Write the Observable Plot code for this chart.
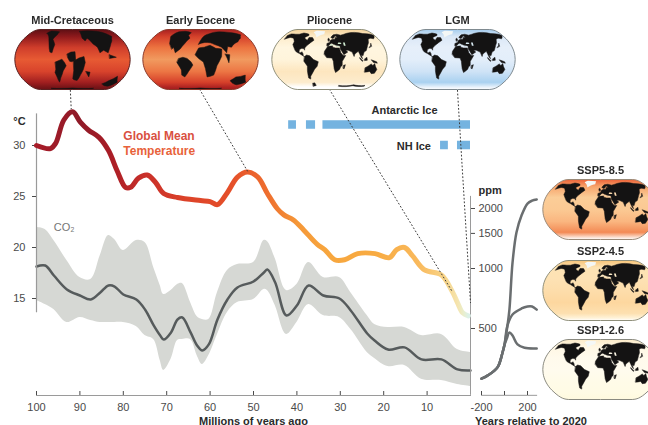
<!DOCTYPE html>
<html>
<head>
<meta charset="utf-8">
<script src="https://cdn.jsdelivr.net/npm/d3@7"></script>
<script src="https://cdn.jsdelivr.net/npm/@observablehq/plot@0.6"></script>
<style>
html,body{margin:0;padding:0;background:#fff;overflow:hidden}
#chart{position:relative;width:648px;height:425px;overflow:hidden;background:#fff}
#chart svg{position:absolute;left:0;top:0;background:transparent;max-width:none}
text{font-family:"Liberation Sans",Arial,sans-serif}
</style>
</head>
<body>
<div id="chart"></div>
<script>
// ---------- Temperature (degrees C) by age (Myr ago)
const tempAges = [100,96.8,95.6,93.7,91.7,89.9,88,85.6,83.4,81.4,79.5,78.3,76.5,74.5,72.6,70.7,67.5,62.2,60,58.3,56,53.7,51.4,49,46.8,44.5,43,40.8,38.4,35.3,33.6,31.3,29,26,22,18.7,17,15.2,13.4,10.6,6.7,4.1,3,1.8,0.5];
const tempC = [30,29.7,30.2,32.5,33.3,32.3,31.5,30.8,29.5,27.5,25.9,25.9,26.8,27.1,26.4,25.3,24.9,24.6,24.5,24.2,25.4,26.9,27.4,26.9,25.3,23.8,23.2,22.7,21.7,20.3,19.8,18.8,18.8,19.4,19.4,19,19.8,20,19.2,17.8,17.3,15.6,14.6,13.6,13.3];
const tempStopAges = [100,90,83,75,65,55,47,40,33,22,12,6,3,1.5,0.5];
const tempStopColors = ["#a81c28","#8f1a28","#a91d26","#c9302a","#dd4329","#e5502a","#ee6d2e","#f59738","#f7a63e","#f8ab42","#f9b95c","#f8d488","#f5e4ae","#e8efd0","#dcf1e8"];

// ---------- CO2 (ppm) by age
const co2Ages = [100,98,96,93,90,87.5,85.3,83.4,82,80,77,75,73,71.5,70.7,69,67.5,66.4,64.5,63,61.8,60.3,58.3,56,53.7,50,47.6,46.8,45,42.4,40,37.3,33.9,30.2,27.6,23.8,22.1,19,15.2,11.3,6.7,3,0];
const co2Mid = [1023,1035,922,785,732,699,758,822,812,741,699,623,518,461,440,478,555,568,478,411,388,416,555,699,803,861,955,989,851,581,652,822,732,707,616,472,435,392,402,350,350,312,308];
const co2High = [1605,1569,1381,1097,901,881,1162,1464,1398,1231,1381,1350,1012,822,741,776,831,841,675,575,555,555,758,977,1047,1072,1381,1366,1122,776,831,1072,901,901,758,581,524,506,506,461,467,392,379];
const co2Low = [691,660,623,536,568,549,536,536,536,536,512,461,440,345,308,350,435,440,440,366,330,366,467,602,675,699,785,776,652,467,536,660,581,568,495,379,354,322,326,278,274,262,256];

// ---------- Ice sheet extents (Myr ago)
const iceSheets = ["Antarctic Ice","Antarctic Ice","Antarctic Ice","NH Ice","NH Ice"];
const iceStart = [41.9,37.8,34,6.9,3.0];
const iceEnd = [40.1,35.7,0,5.1,0];

// ---------- CO2 scenarios (years relative to 2020, ppm)
const histYears = [-200,-148,-61,-17,0];
const histPpm = [280,290,319,379,414];
const ssp5Years = [26,43,70,104,148,200,240,280];
const ssp5Ppm = [518,623,1072,1515,1844,2118,2190,2220];
const ssp2Years = [26,70,148,200,240,280];
const ssp2Ppm = [518,588,630,645,645,622];
const ssp1Years = [20,43,70,113,174,280];
const ssp1Ppm = [445,478,461,416,400,397];

// ---------- Axis ticks
const ageTicks = [100,90,80,70,60,50,40,30,20,10];
const tempTicks = [15,20,25,30];
const ppmTicks = [500,1000,1500,2000];
const yearTicks = [-200,0,200];

// ---------- Leader lines from maps to the temperature curve
const leaderAge1 = [92.2,62.4,32.5,3];
const leaderT1 = [35.4,35.5,35.5,35.4];
const leaderAge2 = [92.0,51.4,4.1,0];
const leaderT2 = [33.6,27.5,15.6,14.6];

// ---------- Land outlines [lon, lat]
const landModern = [
 [[-168,66],[-160,71],[-140,70],[-125,70],[-110,74],[-95,72],[-85,70],[-82,66],[-94,60],[-90,56],[-80,52],[-78,60],[-65,60],[-56,52],[-65,46],[-70,42],[-75,38],[-81,31],[-80,25],[-83,29],[-90,30],[-97,27],[-97,19],[-91,18],[-88,21],[-83,15],[-83,10],[-78,8],[-85,11],[-95,16],[-105,20],[-110,24],[-115,30],[-124,40],[-124,48],[-135,58],[-150,60],[-165,55]],
 [[-78,8],[-72,12],[-62,10],[-50,0],[-35,-6],[-39,-18],[-48,-26],[-58,-38],[-65,-45],[-68,-53],[-74,-50],[-72,-30],[-70,-18],[-80,-5]],
 [[-17,15],[-16,22],[-6,35],[10,37],[11,33],[20,31],[32,31],[36,18],[43,11],[51,11],[40,-5],[40,-16],[35,-20],[33,-26],[20,-35],[15,-25],[12,-5],[8,4],[-8,5]],
 [[-9,37],[-9,43],[0,46],[4,52],[9,54],[12,55],[20,55],[22,60],[30,60],[22,65],[18,60],[12,57],[5,60],[15,68],[30,70],[45,67],[60,70],[80,74],[110,76],[140,72],[170,70],[179,66],[170,60],[163,56],[155,58],[142,55],[135,45],[128,38],[122,30],[118,24],[110,20],[105,10],[100,13],[103,2],[98,8],[92,22],[80,15],[77,8],[72,20],[60,25],[52,25],[58,20],[45,13],[35,28],[35,36],[28,37],[22,37],[18,40],[15,40],[8,44],[5,43],[-4,36]],
 [[114,-22],[122,-18],[131,-12],[137,-16],[142,-11],[146,-19],[153,-27],[150,-37],[140,-38],[132,-32],[116,-34]],
 [[109,1],[117,6],[118,-2],[110,-3]],
 [[95,5],[105,-4],[102,-5],[95,2]],
 [[131,-1],[147,-6],[150,-10],[138,-8]],
 [[44,-16],[50,-14],[47,-25],[44,-24]],
 [[130,32],[140,36],[142,44],[138,38]],
 [[-5,50],[1,52],[-3,58],[-6,56]]
];
const landPliocene = landModern.concat([
 [[-66,-65],[-58,-64],[-56,-72],[-70,-75]],
 [[40,-72],[100,-70],[150,-72],[150,-75],[100,-73],[40,-75]]
]);
const seasModern = [
 [[28,42],[41,42],[38,46],[30,46]],
 [[48,37],[54,37],[53,46],[47,46]],
 [[-2,37],[14,38],[32,33],[33,36],[18,38],[5,42]]
];
const iceGreenland = [[-50,60],[-22,70],[-20,80],[-60,82],[-70,76]];
const landCretaceous = [
 [[-109,73],[-98,81],[-58,78],[-62,68],[-72,55],[-60,40],[-65,18],[-72,20],[-76,30],[-85,52]],
 [[32,80],[70,82],[110,80],[140,72],[153,63],[140,50],[125,35],[113,18],[100,25],[87,18],[82,33],[70,42],[55,58],[45,50],[36,58]],
 [[-17,15],[-5,20],[8,21],[10,-2],[-3,-6],[-9,-5],[-15,5]],
 [[-54,-7],[-33,1],[-25,-8],[-20,-17],[-30,-30],[-42,-50],[-50,-62],[-54,-47],[-58,-35],[-54,-27]],
 [[3,-5],[20,4],[36,8],[40,-8],[35,-27],[27,-42],[17,-57],[5,-55],[1,-52],[4,-30]],
 [[44,-32],[58,-34],[57,-47]],
 [[119,-67],[135,-58],[156,-45],[173,-62],[153,-75],[135,-73]],
 [[116,13],[137,6],[116,3]],
 [[-100,-82],[-50,-83],[0,-81],[50,-83],[100,-82],[100,-88],[0,-88],[-100,-88]]
];
const landEocene = [
 [[-106,43],[-116,63],[-97,78],[-70,80],[-40,75],[-48,66],[-40,58],[-54,43],[-66,28],[-80,18],[-88,32],[-93,28]],
 [[-68,3],[-55,6],[-42,3],[-30,-6],[-24,-15],[-39,-32],[-55,-47],[-64,-42],[-62,-28],[-65,-22],[-74,-8]],
 [[-17,13],[-6,31],[12,33],[32,38],[50,30],[69,28],[66,8],[52,-17],[45,-42],[23,-47],[16,-25],[9,-7],[-5,2]],
 [[-7,41],[3,55],[12,63],[40,72],[85,78],[125,76],[163,68],[150,58],[132,48],[115,42],[102,33],[90,35],[83,18],[69,33],[48,40],[34,45],[15,46]],
 [[78,15],[92,13],[89,-9]],
 [[111,-57],[124,-47],[153,-42],[175,-62],[150,-70],[134,-67]],
 [[-100,-82],[-50,-83],[0,-81],[50,-83],[100,-82],[100,-88],[0,-88],[-100,-88]]
];

// ---------- Map fields: vertical colour stops
const gradOffsets = [0,0.12,0.3,0.5,0.7,0.88,0.96,1];
const fieldCretaceous = ["#5e0f14","#8f1a1c","#cf3d2b","#e75a33","#d8432c","#a11f20","#7a1518","#6c1116"];
const fieldEocene = ["#a82020","#d5412b","#ec7340","#f19a5f","#ec7644","#d6402a","#b02422","#a31c1d"];
const fieldPliocene = ["#f5d39c","#fdeccb","#fff6e0","#fff4db","#fde6bf","#fdeccd","#ffffff","#ffffff"];
const fieldLGM = ["#a5cdee","#dbe8f7","#e6effa","#e3eefa","#cfe3f6","#a9d1f0","#e8f2fb","#ffffff"];
const fieldSSP5 = ["#ec6238","#f7a56c","#fbcd98","#fbc993","#fab680","#f38a55","#fbdccb","#ffffff"];
const fieldSSP2 = ["#f8c478","#fde3b4","#fde2b4","#fdddab","#fdd79f","#fde0b0","#fff3d9","#ffffff"];
const fieldSSP1 = ["#fdebc8","#fff7e4","#fffaec","#fffbee","#fffbe8","#fffbe5","#fffae0","#fff9e0"];

const mapTitles = ["Mid-Cretaceous","Early Eocene","Pliocene","LGM","SSP5-8.5","SSP2-4.5","SSP1-2.6"];
const mapFields = [fieldCretaceous,fieldEocene,fieldPliocene,fieldLGM,fieldSSP5,fieldSSP2,fieldSSP1];
const mapLands = [landCretaceous,landEocene,landPliocene,landModern,landModern,landModern,landModern];
const mapOutlines = ["#5a2020","#8a3a2a","#8f8f7a","#7f8a90","#9a8a78","#8f8f7a","#8a8a80"];
const mapHasIce = [false,false,true,true,true,true,true];
const mapSeaColors = [null,null,"#cde8cf","#d5e6ee","#fbd9ae","#fdebc8","#fbf6e6"];
const mapLefts = [12,140,269,397,540,540,540];
const mapTops = [13,13,13,13,163,244,323];

const landColor = "#141313";
const iceColor = "#74b3e0";
const axisColor = "#9a9a9a";
const textColor = "#4a4a4a";
const labelColor = "#2b2b2b";

const chart = document.getElementById("chart");
const font = '"Liberation Sans", Arial, sans-serif';

// shared gradient defs
const NS = "http://www.w3.org/2000/svg";
const defs = document.createElementNS(NS,"svg");
defs.setAttribute("width",0); defs.setAttribute("height",0);
function addGradient(id, horizontal, offsets, colors){
  const g = document.createElementNS(NS,"linearGradient");
  g.setAttribute("id",id);
  g.setAttribute("x1",0); g.setAttribute("y1",0);
  g.setAttribute("x2",horizontal?1:0); g.setAttribute("y2",horizontal?0:1);
  offsets.forEach((o,i)=>{
    const s = document.createElementNS(NS,"stop");
    s.setAttribute("offset",o); s.setAttribute("stop-color",colors[i]);
    g.appendChild(s);
  });
  defs.appendChild(g);
}
mapFields.forEach((f,i)=>addGradient("field"+i,false,gradOffsets,f));
addGradient("tempGrad",true,tempStopAges.map(a=>(100-a)/(100-0.5)),tempStopColors);
chart.appendChild(defs);

const tempRows = tempAges.map((age,i)=>({age,t:tempC[i]}));
const co2Rows = co2Ages.map((age,i)=>({age,mid:co2Mid[i],high:co2High[i],low:co2Low[i]}));
const iceRows = iceSheets.map((sheet,i)=>({sheet,a:iceStart[i],b:iceEnd[i]}));
const leaderRows = leaderAge1.map((a,i)=>({a1:a,t1:leaderT1[i],a2:leaderAge2[i],t2:leaderT2[i]}));
const series = (ys,ps)=>histYears.concat(ys).map((year,i)=>({year,ppm:histPpm.concat(ps)[i]}));

const frame = {width:648,height:425,marginTop:0,marginLeft:36,marginRight:178,marginBottom:30,style:{background:"transparent",fontFamily:font}};
const ageScale = {domain:[100,0],axis:null};
const ppmScale = {type:"log",domain:[500,1000],range:[328,268],axis:null};
const tempScale = {domain:[15,30],range:[298,145],axis:null};

// CO2 layer
chart.appendChild(Plot.plot({...frame,x:ageScale,y:ppmScale,marks:[
  Plot.areaY(co2Rows,{x:"age",y1:"low",y2:"high",fill:"#d6d8d4",curve:"catmull-rom"}),
  Plot.line(co2Rows,{x:"age",y:"mid",stroke:"#565b5c",strokeWidth:2.5,curve:"catmull-rom"}),
  Plot.ruleX([0],{y1:231,y2:2300,stroke:axisColor,strokeWidth:1}),
  Plot.axisY({anchor:"right",ticks:ppmTicks,tickFormat:d=>String(d),tickSize:4,tickPadding:4,fontSize:11,color:textColor,label:null}),
  Plot.text(["ppm"],{x:-1.84,y:2460,textAnchor:"start",fontSize:11,fontWeight:"bold",fill:labelColor})
]}));

// Scenario layer
chart.appendChild(Plot.plot({...frame,x:{domain:[-200,200],range:[481,527],axis:null},y:ppmScale,marks:[
  Plot.ruleY([231],{x1:-200,x2:288,stroke:axisColor,strokeWidth:1}),
  Plot.line(series(ssp5Years,ssp5Ppm),{x:"year",y:"ppm",stroke:"#6a6e70",strokeWidth:2.5,curve:"catmull-rom"}),
  Plot.line(series(ssp2Years,ssp2Ppm),{x:"year",y:"ppm",stroke:"#6a6e70",strokeWidth:2.5,curve:"catmull-rom"}),
  Plot.line(series(ssp1Years,ssp1Ppm),{x:"year",y:"ppm",stroke:"#6a6e70",strokeWidth:2.5,curve:"catmull-rom"}),
  Plot.axisX({anchor:"bottom",ticks:yearTicks,tickFormat:d=>d===0?"":String(d),tickSize:-4,tickPadding:12,fontSize:11,color:textColor,label:null}),
  Plot.text(["Years relative to 2020"],{x:230,frameAnchor:"bottom",dy:29,fontSize:11,fontWeight:"bold",fill:labelColor})
]}));

// Ice layer
chart.appendChild(Plot.plot({...frame,x:ageScale,
  y:{type:"band",domain:["Antarctic Ice","NH Ice"],range:[108.25,161.25],padding:0.585,round:false,axis:null},
  marks:[Plot.barX(iceRows,{x1:"a",x2:"b",y:"sheet",fill:iceColor})]}));

// Temperature layer
chart.appendChild(Plot.plot({...frame,x:ageScale,y:tempScale,marks:[
  Plot.frame({anchor:"bottom",stroke:axisColor,strokeWidth:1}),
  Plot.ruleX([100],{y1:13.6,y2:33.1,stroke:axisColor,strokeWidth:1.2}),
  Plot.axisY({anchor:"left",ticks:tempTicks,tickSize:4,tickPadding:7,fontSize:11,color:textColor,label:null}),
  Plot.axisX({anchor:"bottom",ticks:ageTicks,tickSize:-4,tickPadding:12,fontSize:11,color:textColor,label:null}),
  Plot.line(tempRows,{x:"age",y:"t",stroke:"url(#tempGrad)",strokeWidth:5,curve:"catmull-rom",strokeLinecap:"round"}),
  Plot.link(leaderRows,{x1:"a1",y1:"t1",x2:"a2",y2:"t2",stroke:"#3c3c3c",strokeWidth:1,strokeDasharray:"1 2.6",strokeLinecap:"round"}),
  Plot.text(["°C"],{x:102.5,y:32.35,textAnchor:"end",fontSize:11,fontWeight:"bold",fill:labelColor}),
  Plot.text(["Global Mean"],{x:80,y:30.9,textAnchor:"start",fontSize:12,fontWeight:"bold",fill:"#d9503f"}),
  Plot.text(["Temperature"],{x:80,y:29.4,textAnchor:"start",fontSize:12,fontWeight:"bold",fill:"#e8623a"}),
  Plot.text(["CO₂"],{x:96,y:22,textAnchor:"start",fontSize:11,fill:"#757575"}),
  Plot.text(["Antarctic Ice"],{x:22.8,y:33.4,textAnchor:"start",fontSize:11,fontWeight:"bold",fill:labelColor}),
  Plot.text(["NH Ice"],{x:17,y:29.9,textAnchor:"start",fontSize:11,fontWeight:"bold",fill:labelColor}),
  Plot.text(["Millions of years ago"],{x:50,frameAnchor:"bottom",dy:29,fontSize:11,fontWeight:"bold",fill:labelColor})
]}));

// Maps
function polygon(ring){
  const closed = ring.concat([ring[0]]);
  const f = {type:"Polygon",coordinates:[closed]};
  if (d3.geoArea(f) > 2*Math.PI) f.coordinates[0] = closed.slice().reverse();
  return f;
}
mapTitles.forEach((title,i)=>{
  const marks = [
    Plot.sphere({fill:`url(#field${i})`,stroke:"none"}),
    Plot.geo(mapLands[i].map(polygon),{fill:landColor,stroke:landColor,strokeWidth:0.5})
  ];
  if (mapHasIce[i]) marks.push(Plot.geo([polygon(iceGreenland)],{fill:"#f4f7f6"}));
  if (mapSeaColors[i]) marks.push(Plot.geo(seasModern.map(polygon),{fill:mapSeaColors[i]}));
  marks.push(Plot.sphere({stroke:mapOutlines[i],strokeWidth:1}));
  marks.push(Plot.text([title],{frameAnchor:"top",dy:-12,fontSize:11,fontWeight:"bold",fill:labelColor}));
  chart.appendChild(Plot.plot({
    width:120,height:77,marginTop:15,marginBottom:0,marginLeft:1,marginRight:1,
    projection:{type:()=>d3.geoNaturalEarth1(),domain:{type:"Sphere"},inset:1},
    style:{position:"absolute",left:mapLefts[i]+"px",top:mapTops[i]+"px",background:"transparent",overflow:"visible",fontFamily:font,filter:"blur(0.35px)"},
    marks
  }));
});
</script>
</body>
</html>
